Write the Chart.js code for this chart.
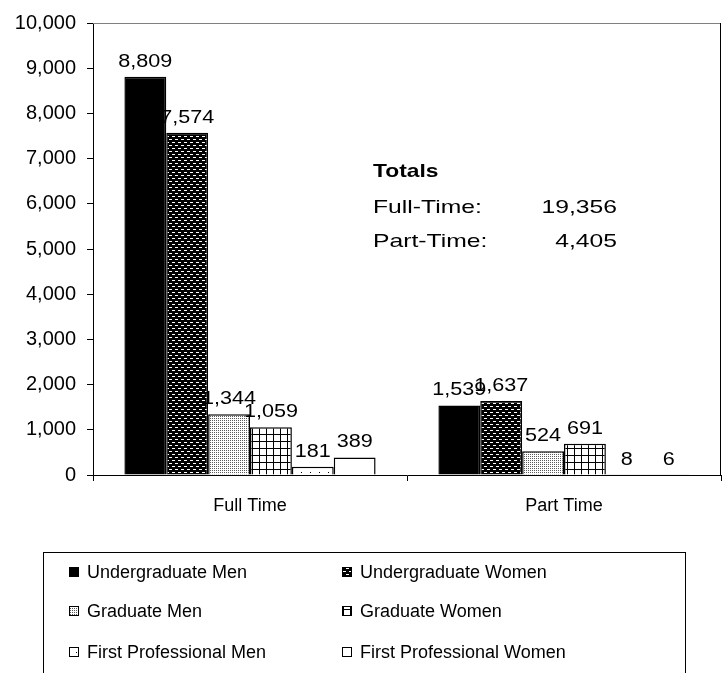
<!DOCTYPE html>
<html>
<head>
<meta charset="utf-8">
<script src="https://cdn.jsdelivr.net/npm/chart.js@4.4.1/dist/chart.umd.min.js"></script>
<style>
  body{margin:0;background:#fff}
</style>
</head>
<body>
<canvas id="myChart" width="726" height="673"></canvas>
<script>
const categorias=["Full Time","Part Time"]
const undergradMen=[8809,1539]
const undergradWomen=[7574,1637]
const gradMen=[1344,524]
const gradWomen=[1059,691]
const firstProfMen=[181,8]
const firstProfWomen=[389,6]
const ticksY=[0,1000,2000,3000,4000,5000,6000,7000,8000,9000,10000]

const fuente="'Liberation Sans', Arial, sans-serif"
const fmt=(v)=>v.toLocaleString("en-US")

// tiles para los rellenos tipo excel
const hacerPatron=(w,h,dibujar)=>{
    const c=document.createElement("canvas")
    c.width=w;c.height=h
    const g=c.getContext("2d")
    dibujar(g)
    return g.createPattern(c,"repeat")
}
const patUgWomen=hacerPatron(6,6,(g)=>{
    g.fillStyle="#000";g.fillRect(0,0,6,6)
    g.fillStyle="#fff"
    g.fillRect(1,1,3,1)
    g.fillRect(4,4,2,1);g.fillRect(0,4,1,1)
})
const patGradMen=hacerPatron(2,2,(g)=>{
    g.fillStyle="#fff";g.fillRect(0,0,2,2)
    g.fillStyle="#5a5a5a";g.fillRect(0,0,1,1)
})
const patGradWomen=hacerPatron(7,7,(g)=>{
    g.fillStyle="#fff";g.fillRect(0,0,7,7)
    g.fillStyle="#000";g.fillRect(0,0,7,1);g.fillRect(0,0,1,7)
})
const patFpMen=hacerPatron(9,9,(g)=>{
    g.fillStyle="#fff";g.fillRect(0,0,9,9)
    g.fillStyle="#000";g.fillRect(4,4,1,1)
})

const series=[
    {label:"Undergraduate Men",data:undergradMen,bg:"#000"},
    {label:"Undergraduate Women",data:undergradWomen,bg:patUgWomen},
    {label:"Graduate Men",data:gradMen,bg:patGradMen},
    {label:"Graduate Women",data:gradWomen,bg:patGradWomen},
    {label:"First Professional Men",data:firstProfMen,bg:patFpMen},
    {label:"First Professional Women",data:firstProfWomen,bg:"#fff"}
]

const textoEstirado=(c,txt,x,y,sx,align)=>{
    c.save()
    c.translate(x,y)
    c.scale(sx,1)
    c.textAlign=align
    c.fillText(txt,0,0)
    c.restore()
}

// etiquetas de valor, borde del area, totales y leyenda
const extras={
    id:"extras",
    afterDatasetsDraw(chart){
        const c=chart.ctx
        const a=chart.chartArea
        c.save()
        c.lineWidth=1
        c.strokeStyle="#808080"
        c.beginPath();c.moveTo(a.left,a.top+0.5);c.lineTo(a.right,a.top+0.5);c.stroke()
        c.strokeStyle="#000"
        c.beginPath();c.moveTo(a.right-0.5,a.top);c.lineTo(a.right-0.5,a.bottom);c.stroke()

        c.fillStyle="#000"
        c.font="18px "+fuente
        c.textBaseline="alphabetic"
        chart.data.datasets.forEach((ds,i)=>{
            chart.getDatasetMeta(i).data.forEach((bar,j)=>{
                textoEstirado(c,fmt(ds.data[j]),bar.x,bar.y-10,1.2,"center")
            })
        })

        // totales
        const totFull=chart.data.datasets.reduce((s,d)=>s+d.data[0],0)
        const totPart=chart.data.datasets.reduce((s,d)=>s+d.data[1],0)
        c.font="bold 19px "+fuente
        textoEstirado(c,"Totals",373,177,1.2,"left")
        c.font="19px "+fuente
        textoEstirado(c,"Full-Time:",373,213,1.3,"left")
        textoEstirado(c,"Part-Time:",373,247,1.3,"left")
        textoEstirado(c,fmt(totFull),617,213,1.3,"right")
        textoEstirado(c,fmt(totPart),617,247,1.3,"right")

        // leyenda
        c.strokeStyle="#000"
        c.lineWidth=1
        c.strokeRect(43.5,552.5,642,130)
        c.font="18px "+fuente
        c.textBaseline="middle"
        chart.data.datasets.forEach((ds,i)=>{
            const col=i%2
            const fila=Math.floor(i/2)
            const x=col==0?69:342
            const y=[572,611,652][fila]
            c.fillStyle=ds.backgroundColor
            c.fillRect(x,y-5,10,10)
            c.strokeStyle="#000"
            c.strokeRect(x+0.5,y-4.5,9,9)
            c.fillStyle="#000"
            c.textAlign="left"
            c.fillText(ds.label,x+18,y+1)
        })
        c.restore()
    }
}

const ctx=document.getElementById("myChart")
const grafico=new Chart(ctx,{
    type:"bar",
    data:{
        labels:categorias,
        datasets:series.map((s)=>({
            label:s.label,
            data:s.data,
            backgroundColor:s.bg,
            borderColor:"#000",
            borderWidth:1.5,
            categoryPercentage:0.8,
            barPercentage:1.0
        }))
    },
    options:{
        responsive:false,
        animation:false,
        layout:{padding:{left:0,right:5,top:22,bottom:158}},
        plugins:{legend:{display:false},tooltip:{enabled:false}},
        scales:{
            x:{
                grid:{display:true,drawOnChartArea:false,drawTicks:true,tickLength:6,color:"#000"},
                border:{display:true,color:"#000",width:1},
                ticks:{color:"#000",font:{family:fuente,size:18},padding:14},
                afterFit:(s)=>{s.height=40}
            },
            y:{
                min:0,max:10000,
                afterBuildTicks:(s)=>{s.ticks=ticksY.map((v)=>({value:v}))},
                grid:{display:true,drawOnChartArea:false,drawTicks:true,tickLength:6,color:"#000"},
                border:{display:true,color:"#000",width:1},
                ticks:{color:"#000",font:{family:fuente,size:20},padding:11,callback:(v)=>fmt(v)},
                afterFit:(s)=>{s.width=93}
            }
        }
    },
    plugins:[extras]
})
</script>
</body>
</html>
